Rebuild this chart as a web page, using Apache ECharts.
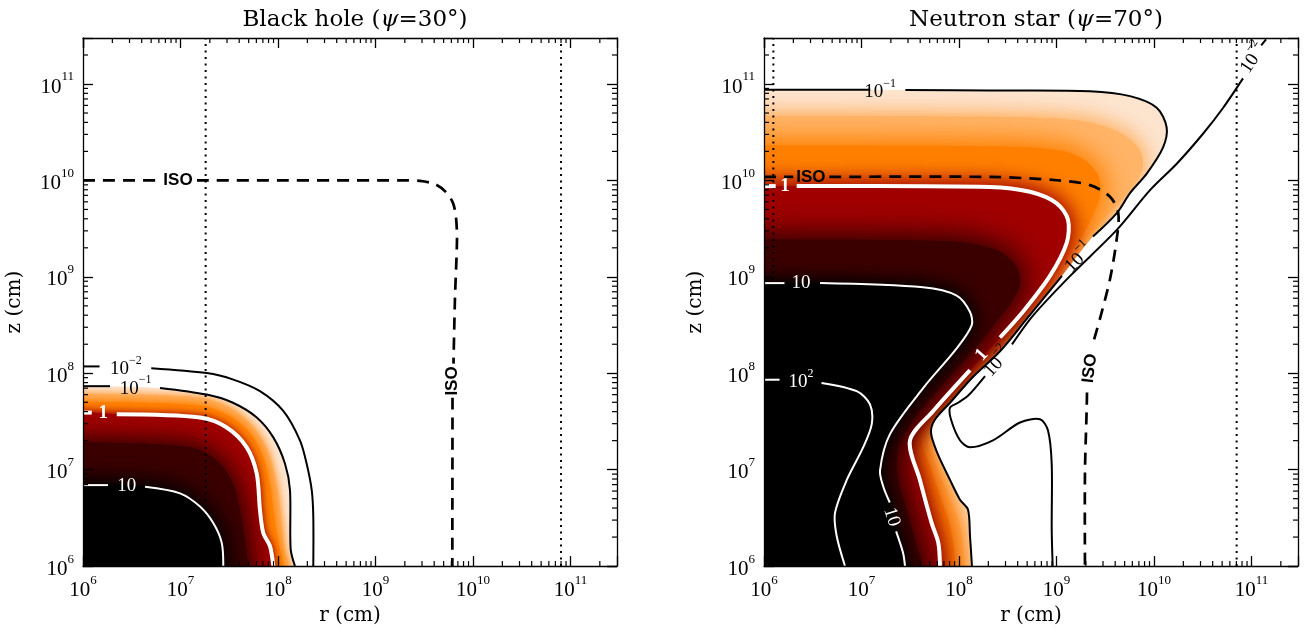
<!DOCTYPE html>
<html>
<head>
<meta charset="utf-8">
<script src="https://cdn.jsdelivr.net/npm/echarts@6/dist/echarts.min.js"></script>
<style>
html,body{margin:0;padding:0;background:#fff;}
#chart{width:1305px;height:631px;}
</style>
</head>
<body>
<div id="chart"></div>
<script>
// ---------------- axes (cm) ----------------
const AXIS_MIN = 1e6;
const AXIS_MAX = 3e11;
const DECADES = [6, 7, 8, 9, 10, 11];
const MINOR_MULTIPLIERS = [2, 3, 4, 5, 6, 7, 8, 9];
const TITLES = ['Black hole', 'Neutron star'];
const PSI = ['30°', '70°'];

// ---------------- Black hole panel ----------------
// points are [log10 r, log10 z]; null = gap left for an inline label
const bh_contour_em2 = [[6.0,8.071],[6.17,8.071],null,[6.70,8.053],[7.269,8.002],[7.542,7.934],[7.815,7.814],[8.054,7.609],[8.226,7.302],[8.294,7.062],[8.346,6.789],[8.362,6.515],[8.362,6.0]];
const bh_contour_em1 = [[6.0,7.866],[6.277,7.866],null,[6.790,7.848],[7.269,7.779],[7.538,7.694],[7.782,7.541],[7.952,7.335],[8.072,7.062],[8.123,6.789],[8.130,6.176],[8.174,6.0]];
const bh_band_emq    = [[6.0,7.787],[7.2,7.746],[7.508,7.643],[7.733,7.458],[7.887,7.212],[7.990,6.823],[8.041,6.412],[8.062,6.156],[8.113,6.0]];
const bh_band_emh    = [[6.0,7.705],[7.2,7.664],[7.487,7.561],[7.713,7.376],[7.846,7.130],[7.918,6.823],[7.959,6.515],[8.0,6.259],[8.051,6.0]];
const bh_contour_e0  = [[6.0,7.592],[6.09,7.592],null,[6.346,7.574],[7.2,7.541],[7.474,7.438],[7.679,7.232],[7.782,6.959],[7.815,6.584],[7.849,6.344],[7.918,6.207],[7.952,6.0]];
const bh_band_eph    = [[6.0,7.284],[7.097,7.233],[7.354,7.110],[7.528,6.874],[7.610,6.566],[7.662,6.259],[7.692,6.0]];
const bh_contour_e1  = [[6.0,6.840],[6.256,6.840],null,[6.636,6.822],[6.995,6.754],[7.2,6.617],[7.336,6.446],[7.423,6.241],[7.439,6.0]];
const bh_iso         = [[6.0,10.0],[6.79,10.0],null,[7.169,10.0],[9.251,10.0],[9.456,9.995],[9.610,9.961],[9.723,9.879],[9.795,9.766],[9.826,9.612],[9.836,9.387],[9.815,8.772],[9.80,8.10],null,[9.79,7.746],[9.788,6.0]];
const bh_dotted_r    = [7.258, 10.903];
const bh_labels = [
  {text:'10', sup:'−2', at:[6.44,8.07], color:'#000'},
  {text:'10', sup:'−1', at:[6.54,7.866], color:'#000'},
  {text:'1', at:[6.208,7.585], color:'#fff', bold:true},
  {text:'10', at:[6.448,6.835], color:'#fff'},
  {text:'ISO', at:[6.974,10.0], color:'#000', sans:true},
  {text:'ISO', at:[9.79,7.92], color:'#000', sans:true, rot:90}
];

// ---------------- Neutron star panel ----------------
const ns_contour_em2 = [[11.149,11.462],[11.10,11.40],null,[10.913,11.058],[10.708,10.751],[10.503,10.484],[10.236,10.176],[9.959,9.899],[9.621,9.489],[9.138,9.007],[8.759,8.597],[8.544,8.299],null,[8.267,7.971],[8.092,7.766],[7.990,7.694],[7.908,7.643],[7.918,7.520],[8.010,7.305],[8.113,7.233],[8.349,7.305],[8.626,7.489],[8.831,7.523],[8.913,7.407],[8.951,7.058],[8.951,6.382],[8.961,6.0]];
const ns_contour_em1 = [[6.0,10.941],[7.09,10.94],null,[7.45,10.937],[8.318,10.932],[9.344,10.925],[9.754,10.874],[10.028,10.754],[10.130,10.549],[10.092,10.340],[9.928,10.074],[9.754,9.869],[9.621,9.664],[9.374,9.418],null,[9.056,9.009],[8.697,8.566],[8.421,8.228],[8.133,7.951],[7.908,7.694],[7.754,7.520],[7.713,7.387],[7.774,7.182],[7.908,6.894],[8.010,6.689],[8.092,6.586],[8.113,6.310],[8.133,6.0]];
const ns_band_emq    = [[6.0,10.669],[8.421,10.659],[9.241,10.618],[9.651,10.495],[9.856,10.310],[9.877,10.105],[9.754,9.899],[9.549,9.674],[9.292,9.387],[9.077,9.079],[8.903,8.843],[8.677,8.566],[8.431,8.279],[8.185,8.002],[7.918,7.725],[7.703,7.469],[7.672,7.335],[7.774,7.028],[7.897,6.721],[8.010,6.413],[8.051,6.0]];
const ns_band_emh    = [[6.0,10.361],[8.421,10.351],[9.036,10.310],[9.292,10.207],[9.426,10.053],[9.446,9.848],[9.374,9.643],[9.241,9.387],[9.036,9.100],[8.862,8.853],[8.646,8.587],[8.410,8.310],[8.174,8.053],[7.908,7.746],[7.682,7.489],[7.610,7.335],[7.703,7.028],[7.805,6.721],[7.908,6.413],[7.959,6.0]];
const ns_contour_e0  = [[6.0,9.941],[6.12,9.941],null,[6.335,9.941],[8.318,9.933],[8.728,9.882],[9.002,9.763],[9.118,9.592],[9.105,9.353],[8.933,9.010],[8.656,8.638],[8.421,8.371],null,[8.113,8.033],[7.736,7.609],[7.497,7.302],[7.600,6.891],[7.720,6.446],[7.788,6.241],[7.805,6.0]];
const ns_band_eph    = [[6.0,9.387],[7.908,9.366],[8.369,9.284],[8.574,9.131],[8.626,8.925],[8.523,8.720],[8.369,8.515],[8.164,8.258],[7.908,7.971],[7.549,7.541],[7.374,7.233],[7.374,6.895],[7.467,6.567],[7.549,6.259],[7.621,6.0]];
const ns_contour_e1  = [[6.0,8.935],[6.21,8.935],null,[6.575,8.935],[7.631,8.891],[7.976,8.805],[8.113,8.635],[8.130,8.497],[7.976,8.258],[7.634,7.848],[7.292,7.369],[7.190,6.994],[7.224,6.823],[7.29,6.66],null,[7.355,6.36],[7.426,6.138],[7.446,6.0]];
const ns_contour_e2  = [[6.0,7.933],[6.16,7.933],null,[6.59,7.90],[6.951,7.814],[7.087,7.677],[7.105,7.472],[7.018,7.233],[6.848,6.891],[6.728,6.549],[6.746,6.310],[6.831,6.0]];
const ns_iso         = [[6.0,10.036],[6.30,10.036],null,[6.67,10.036],[8.318,10.036],[9.002,10.002],[9.344,9.951],[9.549,9.831],[9.634,9.661],[9.617,9.387],[9.549,8.977],[9.446,8.566],[9.374,8.31],null,[9.313,7.80],[9.310,7.643],[9.292,6.959],[9.292,6.0]];
const ns_dotted_r    = [6.096, 10.848];
const ns_labels = [
  {text:'10', sup:'−1', at:[7.19,10.94], color:'#000'},
  {text:'ISO', at:[6.48,10.036], color:'#000', sans:true},
  {text:'1', at:[6.215,9.941], color:'#fff', bold:true},
  {text:'10', at:[6.38,8.935], color:'#fff'},
  {text:'10', sup:'2', at:[6.38,7.933], color:'#fff'},
  {text:'10', at:[7.31,6.51], color:'#fff', rot:-72},
  {text:'1', at:[8.233,8.19], color:'#fff', bold:true, rot:48},
  {text:'10', sup:'−2', at:[8.38,8.13], color:'#000', rot:48},
  {text:'10', sup:'−1', at:[9.215,9.21], color:'#000', rot:45},
  {text:'10', sup:'−2', at:[11.0,11.28], color:'#000', rot:56},
  {text:'ISO', at:[9.343,8.05], color:'#000', sans:true, rot:83}
];

// colour of each filled band and how far its colour bleeds outward (px)
const BAND_COLORS = { em1: '#fde4cf', emq: '#ffb468', emh: '#ff8000', e0: '#a00000', eph: '#3a0000', e1: '#000000' };
const BH_BLEED = { emq: 8, emh: 12, e0: 10, eph: 24, e1: 24 };
const NS_BLEED = { emq: 22, emh: 30, e0: 24, eph: 30, e1: 20 };

// ---------------- helpers ----------------
const SMOOTH = 0.3;
const OFF_LO = 5.4, OFF_HI = 12.6;   // closure vertices placed outside the plotted range (clipped)
const toCm = p => [Math.pow(10, p[0]), Math.pow(10, p[1])];
const noGaps = a => a.filter(p => p !== null);
const splitAtGaps = a => {
  const segs = [[]];
  a.forEach(p => { if (p === null) segs.push([]); else segs[segs.length - 1].push(p); });
  return segs.filter(s => s.length > 1);
};
const regionPolygon = c => { const s = noGaps(c), f = s[0], l = s[s.length - 1];
  return s.concat([[l[0], OFF_LO], [OFF_LO, OFF_LO], [OFF_LO, f[1]]]); };
const outsidePolygon = c => { const s = noGaps(c), f = s[0], l = s[s.length - 1];
  return s.concat([[l[0], OFF_LO], [OFF_HI, OFF_LO], [OFF_HI, OFF_HI], [OFF_LO, OFF_HI], [OFF_LO, f[1]]]); };
const project = (api, pts) => pts.map(p => api.coord(toCm(p)));

let zCounter = 1;
function custom(gi, clip, build) {
  return { type:'custom', coordinateSystem:'cartesian2d', xAxisIndex: gi * 2, yAxisIndex: gi * 2,
    clip: clip, silent: true, animation: false, z: zCounter++,
    data: [[AXIS_MIN, AXIS_MIN]], encode: {x: 0, y: 1},
    renderItem: (params, api) => build(api) };
}
function fillSeries(gi, contour, color, blur) {
  return custom(gi, true, api => {
    const pts = project(api, regionPolygon(contour));
    const one = () => ({ type:'polygon', shape: { points: pts, smooth: SMOOTH },
      style: { fill: color, stroke: 'none', shadowBlur: blur || 0, shadowColor: blur ? color : 'rgba(0,0,0,0)' } });
    return { type:'group', children: blur ? [one(), one()] : [one()] };
  });
}
function maskSeries(gi, contour) {
  return custom(gi, true, api => ({ type:'polygon',
    shape: { points: project(api, outsidePolygon(contour)), smooth: SMOOTH },
    style: { fill: '#ffffff', stroke: 'none' } }));
}
function lineSeries(gi, contour, stroke, width, dash) {
  return custom(gi, true, api => ({ type:'group', children: splitAtGaps(contour).map(seg => ({
    type:'polyline', shape: { points: project(api, seg), smooth: SMOOTH },
    style: { fill: 'none', stroke: stroke, lineWidth: width, lineDash: dash || null, lineCap: 'butt', lineJoin: 'round' } })) }));
}
function dottedSeries(gi, rs) {
  return custom(gi, true, api => ({ type:'group', children: rs.map(r => {
    const a = api.coord([Math.pow(10, r), AXIS_MIN]), b = api.coord([Math.pow(10, r), AXIS_MAX]);
    return { type:'line', shape: {x1: a[0], y1: a[1], x2: b[0], y2: b[1]},
      style: { stroke: '#000', lineWidth: 2, lineDash: [2, 4.5] } };
  }) }));
}
function labelSeries(gi, labels) {
  return custom(gi, false, api => ({ type:'group', children: labels.map(L => {
    const xy = api.coord(toCm(L.at));
    const fam = L.sans ? 'Liberation Sans' : 'Liberation Serif';
    const size = L.sans ? 17 : 19;
    const weight = (L.sans || L.bold) ? 'bold' : 'normal';
    const style = { fill: L.color, align: 'center', verticalAlign: 'middle' };
    if (L.sup) {
      style.text = '{b|' + L.text + '}{s|' + L.sup + '}';
      style.rich = {
        b: { fontFamily: fam, fontSize: size, fontWeight: weight, fill: L.color, lineHeight: 24, verticalAlign: 'bottom' },
        s: { fontFamily: fam, fontSize: 12, fill: L.color, verticalAlign: 'top' }
      };
    } else {
      style.text = L.text;
      style.font = weight + ' ' + size + 'px "' + fam + '"';
    }
    return { type:'text', x: xy[0], y: xy[1], rotation: (L.rot || 0) * Math.PI / 180, style: style };
  }) }));
}
const MINOR_VALUES = [];
DECADES.forEach(e => MINOR_MULTIPLIERS.forEach(m => { const v = m * Math.pow(10, e); if (v < AXIS_MAX) MINOR_VALUES.push(v); }));
function minorTickSeries(gi) {
  return custom(gi, false, api => {
    const kids = [], L = 5, st = { stroke: '#000', lineWidth: 1.2 };
    MINOR_VALUES.forEach(v => {
      const b = api.coord([v, AXIS_MIN]), t = api.coord([v, AXIS_MAX]);
      const l = api.coord([AXIS_MIN, v]), r = api.coord([AXIS_MAX, v]);
      kids.push({ type:'line', shape:{x1:b[0], y1:b[1], x2:b[0], y2:b[1] - L}, style: st });
      kids.push({ type:'line', shape:{x1:t[0], y1:t[1], x2:t[0], y2:t[1] + L}, style: st });
      kids.push({ type:'line', shape:{x1:l[0], y1:l[1], x2:l[0] + L, y2:l[1]}, style: st });
      kids.push({ type:'line', shape:{x1:r[0], y1:r[1], x2:r[0] - L, y2:r[1]}, style: st });
    });
    return { type:'group', children: kids };
  });
}

function panel(gi, P, bleed) {
  const s = [];
  s.push(fillSeries(gi, P.em1, BAND_COLORS.em1, 0));
  s.push(fillSeries(gi, P.emq, BAND_COLORS.emq, bleed.emq));
  s.push(fillSeries(gi, P.emh, BAND_COLORS.emh, bleed.emh));
  s.push(fillSeries(gi, P.e0, BAND_COLORS.e0, bleed.e0));
  s.push(fillSeries(gi, P.eph, BAND_COLORS.eph, bleed.eph));
  s.push(fillSeries(gi, P.e1, BAND_COLORS.e1, bleed.e1));
  s.push(maskSeries(gi, P.em1));
  s.push(dottedSeries(gi, P.dotted));
  s.push(lineSeries(gi, P.iso, '#000', 2.7, [12, 8]));
  if (P.em2) s.push(lineSeries(gi, P.em2, '#000', 2));
  s.push(lineSeries(gi, P.em1, '#000', 2));
  s.push(lineSeries(gi, P.e0, '#fff', 4));
  s.push(lineSeries(gi, P.e1, '#fff', 2));
  if (P.e2) s.push(lineSeries(gi, P.e2, '#fff', 2));
  s.push(labelSeries(gi, P.labels));
  s.push(minorTickSeries(gi));
  return s;
}

// ---------------- axes ----------------
const SERIF = 'Liberation Serif';
const tickRich = {
  b: { fontFamily: SERIF, fontSize: 21, color: '#000', lineHeight: 27, verticalAlign: 'bottom' },
  s: { fontFamily: SERIF, fontSize: 13, color: '#000', verticalAlign: 'top' }
};
function expLabel(v) {
  const e = Math.log10(v), k = Math.round(e);
  if (Math.abs(e - k) > 1e-6) return '';
  return '{b|10}{s|' + k + '}';
}
const nameStyle = { fontFamily: 'DejaVu Serif', fontSize: 20, color: '#000' };
function axisCommon(gi, pos, isX) {
  const main = (pos === 'bottom' || pos === 'left');
  return {
    type: 'log', logBase: 10, gridIndex: gi, position: pos, min: AXIS_MIN, max: AXIS_MAX, z: 50,
    axisLine: { show: true, onZero: false, lineStyle: { color: '#000', width: 1.3 } },
    axisTick: { show: true, inside: true, length: 10, lineStyle: { color: '#000', width: 1.3 } },
    minorTick: { show: false }, splitLine: { show: false },
    axisLabel: main ? { show: true, margin: isX ? 8 : 9, formatter: expLabel, rich: tickRich } : { show: false },
    name: main ? (isX ? 'r (cm)' : 'z (cm)') : '',
    nameLocation: 'middle', nameGap: isX ? 28 : 58, nameTextStyle: nameStyle
  };
}

const BH = { em2: bh_contour_em2, em1: bh_contour_em1, emq: bh_band_emq, emh: bh_band_emh, e0: bh_contour_e0,
             eph: bh_band_eph, e1: bh_contour_e1, iso: bh_iso, dotted: bh_dotted_r, labels: bh_labels };
const NS = { em2: ns_contour_em2, em1: ns_contour_em1, emq: ns_band_emq, emh: ns_band_emh, e0: ns_contour_e0,
             eph: ns_band_eph, e1: ns_contour_e1, e2: ns_contour_e2, iso: ns_iso, dotted: ns_dotted_r, labels: ns_labels };

const titleRich = {
  n: { fontFamily: 'DejaVu Serif', fontSize: 23, fontWeight: 'normal', color: '#000' },
  i: { fontFamily: 'DejaVu Serif', fontSize: 23, fontWeight: 'normal', fontStyle: 'italic', color: '#000' }
};
const GRID_LEFT = [83, 764], GRID_W = 534;

const option = {
  animation: false,
  backgroundColor: '#ffffff',
  title: [0, 1].map(i => ({
    text: '{n|' + TITLES[i] + ' (}{i|ψ}{n|=' + PSI[i] + ')}',
    left: GRID_LEFT[i] + GRID_W / 2, top: 4, textAlign: 'center',
    textStyle: { fontWeight: 'normal', rich: titleRich }
  })),
  grid: [0, 1].map(i => ({ left: GRID_LEFT[i], top: 38, width: GRID_W, height: 532, containLabel: false })),
  xAxis: [axisCommon(0, 'bottom', true), axisCommon(0, 'top', true), axisCommon(1, 'bottom', true), axisCommon(1, 'top', true)],
  yAxis: [axisCommon(0, 'left', false), axisCommon(0, 'right', false), axisCommon(1, 'left', false), axisCommon(1, 'right', false)],
  series: [].concat(panel(0, BH, BH_BLEED), panel(1, NS, NS_BLEED))
};

const chart = echarts.init(document.getElementById('chart'), null, { renderer: 'canvas' });
chart.setOption(option);
</script>
</body>
</html>
